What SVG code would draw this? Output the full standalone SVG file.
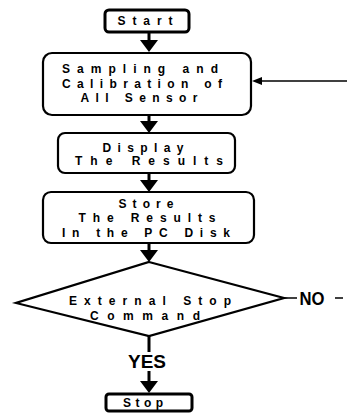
<svg xmlns="http://www.w3.org/2000/svg" width="347" height="414" viewBox="0 0 347 414">
<defs>
<style>
.box{fill:#fff;stroke:#000;stroke-width:2.2}
.term{fill:#fff;stroke:#000;stroke-width:3}
.t{font-family:"Liberation Sans",Arial,sans-serif;font-size:12px;font-weight:bold;fill:#000;text-anchor:middle}
.big{font-family:"Liberation Sans",Arial,sans-serif;font-size:18px;fill:#000;text-anchor:middle}
.ln{stroke:#000;stroke-width:3;fill:none}
.thin{stroke:#000;stroke-width:1.5;fill:none}
.head{fill:#000}
</style>
</defs>
<rect width="347" height="414" fill="#fff"/>
<g id="connectors">
<line class="ln" x1="149" y1="32" x2="149" y2="42"/>
<polygon class="head" points="140,40 158,40 149,52"/>
<line class="ln" x1="149" y1="115" x2="149" y2="123"/>
<polygon class="head" points="140,121 158,121 149,133"/>
<line class="ln" x1="149" y1="173" x2="149" y2="182"/>
<polygon class="head" points="140,180 158,180 149,192"/>
<line class="ln" x1="149" y1="243" x2="149" y2="252"/>
<polygon class="head" points="140,250 158,250 149,262"/>
<line class="ln" x1="149" y1="336" x2="149" y2="352"/>
<line class="ln" x1="149" y1="371" x2="149" y2="383"/>
<polygon class="head" points="140,381 158,381 149,393"/>
<line class="thin" x1="347" y1="81" x2="258" y2="81"/>
<polygon class="head" points="252,81 262,77 262,85"/>
<line class="thin" x1="284" y1="298" x2="297" y2="298"/>
<line class="thin" x1="335" y1="298" x2="343" y2="298"/>
<text class="big" x="147" y="368" font-weight="bold" textLength="38" lengthAdjust="spacingAndGlyphs">YES</text>
<text class="big" x="312" y="305" font-weight="bold" textLength="25" lengthAdjust="spacingAndGlyphs">NO</text>
</g>
<g id="start">
<rect class="term" x="105" y="10" width="84" height="22" rx="4"/>
<text class="t" x="145" y="25" textLength="55" lengthAdjust="spacing">Start</text>
</g>
<g id="sampling">
<rect class="box" x="43" y="53" width="208" height="62" rx="9"/>
<text class="t" x="140" y="73" textLength="156" lengthAdjust="spacing">Sampling and</text>
<text class="t" x="142" y="88" textLength="160" lengthAdjust="spacing">Calibration of</text>
<text class="t" x="139" y="102" textLength="117" lengthAdjust="spacing">All Sensor</text>
</g>
<g id="display">
<rect class="box" x="58" y="133" width="177" height="40" rx="7"/>
<text class="t" x="143" y="152" textLength="81" lengthAdjust="spacing">Display</text>
<text class="t" x="149" y="165" textLength="148" lengthAdjust="spacing">The Results</text>
</g>
<g id="store">
<rect class="box" x="43" y="192" width="211" height="51" rx="8"/>
<text class="t" x="146" y="208" textLength="55" lengthAdjust="spacing">Store</text>
<text class="t" x="147" y="222" textLength="137" lengthAdjust="spacing">The Results</text>
<text class="t" x="146" y="237" textLength="168" lengthAdjust="spacing">In the PC Disk</text>
</g>
<g id="decision">
<polygon class="box" stroke-width="1.8" points="149,262 284,298 149,336 16,303"/>
<text class="t" x="150" y="305" textLength="162" lengthAdjust="spacing">External Stop</text>
<text class="t" x="145" y="320" textLength="110" lengthAdjust="spacing">Command</text>
</g>
<g id="stop">
<rect class="term" x="106" y="394" width="86" height="17" rx="3"/>
<text class="t" x="143" y="407" textLength="40" lengthAdjust="spacing">Stop</text>
</g>
</svg>
